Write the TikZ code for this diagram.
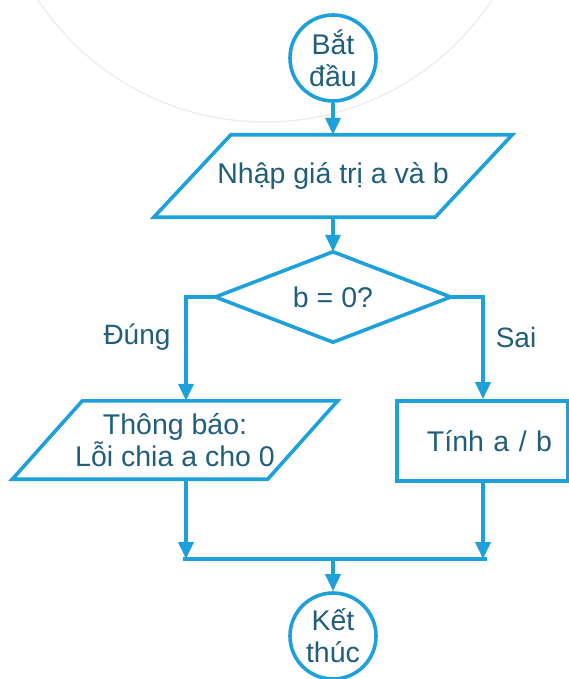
\documentclass[tikz,border=0pt]{standalone}
\usepackage{fontspec}
\setmainfont{Liberation Sans}
\usetikzlibrary{arrows.meta,calc}
\definecolor{flowline}{HTML}{1EA0DA}
\definecolor{flowtext}{HTML}{215E7B}
\begin{document}
\begin{tikzpicture}[x=1pt,y=-1pt,
  every node/.style={text=flowtext,font=\fontsize{28.5}{32}\selectfont,align=center,inner sep=0pt},
  shp/.style={draw=flowline,line width=3.6pt,line join=miter},
  termbox/.style={circle,draw=flowline,line width=3.6pt,minimum size=86pt},
  flowarr/.style={draw=flowline,line width=3.6pt,-{Triangle[width=15pt,length=17pt]}},
  flowln/.style={draw=flowline,line width=3.6pt},
  lbl/.style={font=\fontsize{28}{32}\selectfont}]
\useasboundingbox (0,0) rectangle (569,679);
% faint watermark arc
\draw[black!7,line width=1.4pt] (265,-150) ++(33:272) arc[start angle=33,end angle=147,radius=272];
% nodes
\node[termbox] (start) at (333,58) {Bắt\\đầu};
\node[minimum width=281pt,minimum height=82pt] (inp) at (333,176) {Nhập giá trị a và b};
\draw[shp] ($(inp.south west)+(-38.5,0)$) -- ($(inp.south east)+(-38.5,0)$)
  -- ($(inp.north east)+(38.5,0)$) -- ($(inp.north west)+(38.5,0)$) -- cycle;
\node[minimum width=235pt,minimum height=90pt] (dec) at (333,297) {b = 0?};
\draw[shp] (dec.west) -- (dec.north) -- (dec.east) -- (dec.south) -- cycle;
\node[minimum width=255pt,minimum height=78pt] (err) at (175,440) {Thông báo:\\Lỗi chia a cho 0};
\draw[shp] ($(err.south west)+(-35,0)$) -- ($(err.south east)+(-35,0)$)
  -- ($(err.north east)+(35,0)$) -- ($(err.north west)+(35,0)$) -- cycle;
\node[shp,minimum width=171pt,minimum height=80pt,text width=171pt,align=center] (calc) at (482.5,441) {\hspace*{14pt}Tính a / b};
\node[termbox] (endc) at (333,636) {Kết\\thúc};
% labels
\node[lbl] (yes) at (137,337) {Đúng};
\node[lbl] (no) at (516,337) {Sai};
% coordinates
\coordinate (L) at (186,297);
\coordinate (R) at (483,297);
\coordinate (M) at (333,559);
\coordinate (ML) at (183,559);
\coordinate (MR) at (487,559);
% connectors
\draw[flowarr] (start.south) -- (inp.north);
\draw[flowarr] (inp.south) -- (dec.north);
\draw[flowarr] (dec.west) -- (L) -- (L |- err.north);
\draw[flowarr] (dec.east) -- (R) -- (R |- calc.north);
\draw[flowarr] (L |- err.south) -- (L |- M);
\draw[flowarr] (R |- calc.south) -- (R |- M);
\draw[flowln] (ML) -- (MR);
\draw[flowarr] (M) -- (endc.north);
\end{tikzpicture}
\end{document}
